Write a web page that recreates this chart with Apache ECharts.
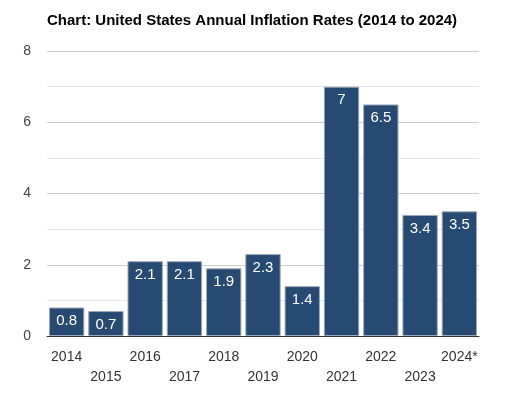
<!DOCTYPE html>
<html>
<head>
<meta charset="utf-8">
<script src="https://cdn.jsdelivr.net/npm/echarts@6/dist/echarts.min.js"></script>
<style>
  html, body { margin: 0; padding: 0; background: #fff; }
  #chart { width: 517px; height: 402px; }
</style>
</head>
<body>
<div id="chart"></div>
<script>
// Data
const years = ['2014', '2015', '2016', '2017', '2018', '2019', '2020', '2021', '2022', '2023', '2024*'];
const rates = [0.8, 0.7, 2.1, 2.1, 1.9, 2.3, 1.4, 7, 6.5, 3.4, 3.5];
const yTicks = [0, 2, 4, 6, 8];

const font = 'Arial, "Liberation Sans", sans-serif';

const chart = echarts.init(document.getElementById('chart'));
chart.setOption({
    animation: false,
    backgroundColor: '#fff',
    title: {
        text: 'Chart: United States Annual Inflation Rates (2014 to 2024)',
        left: 42,
        top: 8,
        textStyle: { fontFamily: font, fontSize: 15, fontWeight: 'bold', color: '#000' }
    },
    grid: { left: 47, right: 38, top: 51, bottom: 66, containLabel: false },
    xAxis: {
        type: 'category',
        data: years,
        axisLine: { lineStyle: { color: '#333', width: 1 } },
        axisTick: { show: false },
        axisLabel: {
            interval: 0,
            margin: 11,
            color: '#333',
            fontFamily: font,
            fontSize: 14,
            lineHeight: 20,
            formatter: (v, i) => (i % 2 ? '\n' + v : v)
        }
    },
    yAxis: {
        type: 'value',
        min: yTicks[0],
        max: yTicks[yTicks.length - 1],
        interval: 2,
        axisLine: { show: false },
        axisTick: { show: false },
        axisLabel: { margin: 16, color: '#444', fontFamily: font, fontSize: 14 },
        splitLine: { lineStyle: { color: '#cccccc', width: 1 } },
        minorTick: { show: false, splitNumber: 2 },
        minorSplitLine: { show: true, lineStyle: { color: '#e6e6e6', width: 1 } }
    },
    series: [{
        type: 'bar',
        data: rates,
        barCategoryGap: '10%',
        itemStyle: { color: '#264a72', borderColor: '#9aa8ba', borderWidth: 1 },
        label: {
            show: true,
            position: 'insideTop',
            distance: 6,
            color: '#fff',
            fontFamily: font,
            fontSize: 15
        }
    }]
});
</script>
</body>
</html>
